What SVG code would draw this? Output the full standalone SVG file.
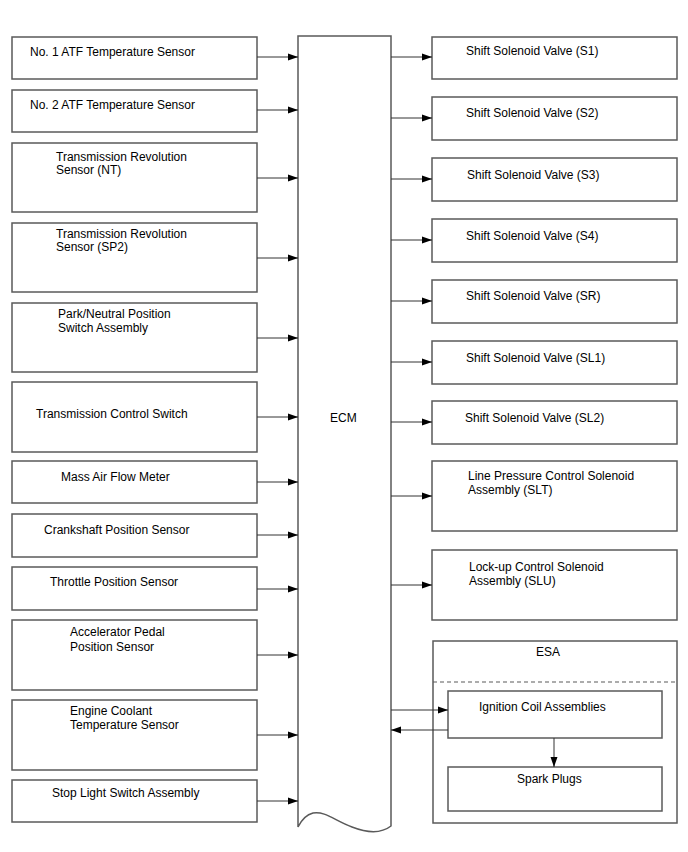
<svg xmlns="http://www.w3.org/2000/svg" width="688" height="852" viewBox="0 0 688 852">
<style>
.box{fill:#fff;stroke:#5a5a5a;stroke-width:1.5}
.t{font-family:"Liberation Sans",Arial,sans-serif;font-size:12px;fill:#000}
.c{stroke:#333;stroke-width:1;fill:none}
</style>
<defs>
<marker id="ah" markerWidth="10" markerHeight="8" refX="10" refY="4" orient="auto" markerUnits="userSpaceOnUse">
<path d="M0,0.5 L10,4 L0,7.5 Z" fill="#000"/>
</marker>
</defs>
<rect width="688" height="852" fill="#fff"/>
<g id="ecm">
<path class="box" d="M298,36 H391 V826 C382,833 370,834 352,827 C334,820 325,811 313,813 C305,815 301,821 298,827 Z"/>
<text class="t" x="330" y="422">ECM</text>
</g>
<g id="n1"><rect class="box" x="12" y="37" width="245" height="42"/><text class="t" x="30" y="56">No. 1 ATF Temperature Sensor</text></g>
<g id="n2"><rect class="box" x="12" y="90" width="245" height="42"/><text class="t" x="30" y="109">No. 2 ATF Temperature Sensor</text></g>
<g id="n3"><rect class="box" x="12" y="143" width="245" height="69"/><text class="t" x="56" y="161">Transmission Revolution</text><text class="t" x="56" y="174">Sensor (NT)</text></g>
<g id="n4"><rect class="box" x="12" y="223" width="245" height="69"/><text class="t" x="56" y="238">Transmission Revolution</text><text class="t" x="56" y="251">Sensor (SP2)</text></g>
<g id="n5"><rect class="box" x="12" y="303" width="245" height="69"/><text class="t" x="58" y="318">Park/Neutral Position</text><text class="t" x="58" y="332">Switch Assembly</text></g>
<g id="n6"><rect class="box" x="12" y="382" width="245" height="70"/><text class="t" x="36" y="418">Transmission Control Switch</text></g>
<g id="n7"><rect class="box" x="12" y="461" width="245" height="42"/><text class="t" x="61" y="481">Mass Air Flow Meter</text></g>
<g id="n8"><rect class="box" x="12" y="514" width="245" height="43"/><text class="t" x="44" y="534">Crankshaft Position Sensor</text></g>
<g id="n9"><rect class="box" x="12" y="567" width="245" height="43"/><text class="t" x="50" y="586">Throttle Position Sensor</text></g>
<g id="n10"><rect class="box" x="12" y="620" width="245" height="70"/><text class="t" x="70" y="636">Accelerator Pedal</text><text class="t" x="70" y="651">Position Sensor</text></g>
<g id="n11"><rect class="box" x="12" y="700" width="245" height="70"/><text class="t" x="70" y="715">Engine Coolant</text><text class="t" x="70" y="729">Temperature Sensor</text></g>
<g id="n12"><rect class="box" x="12" y="780" width="245" height="42"/><text class="t" x="52" y="797">Stop Light Switch Assembly</text></g>
<g id="s1"><rect class="box" x="432" y="37" width="245" height="42"/><text class="t" x="466" y="55">Shift Solenoid Valve (S1)</text></g>
<g id="s2"><rect class="box" x="432" y="97" width="245" height="43"/><text class="t" x="466" y="117">Shift Solenoid Valve (S2)</text></g>
<g id="s3"><rect class="box" x="432" y="158" width="245" height="43"/><text class="t" x="467" y="179">Shift Solenoid Valve (S3)</text></g>
<g id="s4"><rect class="box" x="432" y="219" width="245" height="43"/><text class="t" x="466" y="240">Shift Solenoid Valve (S4)</text></g>
<g id="sr"><rect class="box" x="432" y="280" width="245" height="43"/><text class="t" x="466" y="300">Shift Solenoid Valve (SR)</text></g>
<g id="sl1"><rect class="box" x="432" y="341" width="245" height="43"/><text class="t" x="466" y="362">Shift Solenoid Valve (SL1)</text></g>
<g id="sl2"><rect class="box" x="432" y="401" width="245" height="43"/><text class="t" x="465" y="422">Shift Solenoid Valve (SL2)</text></g>
<g id="slt"><rect class="box" x="432" y="461" width="245" height="70"/><text class="t" x="468" y="480">Line Pressure Control Solenoid</text><text class="t" x="468" y="494">Assembly (SLT)</text></g>
<g id="slu"><rect class="box" x="432" y="550" width="245" height="70"/><text class="t" x="469" y="571">Lock-up Control Solenoid</text><text class="t" x="469" y="585">Assembly (SLU)</text></g>
<g id="esa"><rect class="box" x="433" y="641" width="244" height="182"/><text class="t" x="548" y="656" text-anchor="middle">ESA</text><line x1="433" y1="682" x2="677" y2="682" stroke="#5a5a5a" stroke-width="1.2" stroke-dasharray="4,3"/></g>
<g id="ign"><rect class="box" x="448" y="691" width="214" height="47"/><text class="t" x="479" y="711">Ignition Coil Assemblies</text></g>
<g id="spark"><rect class="box" x="448" y="767" width="214" height="44"/><text class="t" x="517" y="783">Spark Plugs</text></g>
<g id="connectors">
<line class="c" x1="257" y1="57" x2="298" y2="57" marker-end="url(#ah)"/>
<line class="c" x1="257" y1="110" x2="298" y2="110" marker-end="url(#ah)"/>
<line class="c" x1="257" y1="178" x2="298" y2="178" marker-end="url(#ah)"/>
<line class="c" x1="257" y1="258" x2="298" y2="258" marker-end="url(#ah)"/>
<line class="c" x1="257" y1="338" x2="298" y2="338" marker-end="url(#ah)"/>
<line class="c" x1="257" y1="417" x2="298" y2="417" marker-end="url(#ah)"/>
<line class="c" x1="257" y1="482" x2="298" y2="482" marker-end="url(#ah)"/>
<line class="c" x1="257" y1="535" x2="298" y2="535" marker-end="url(#ah)"/>
<line class="c" x1="257" y1="589" x2="298" y2="589" marker-end="url(#ah)"/>
<line class="c" x1="257" y1="655" x2="298" y2="655" marker-end="url(#ah)"/>
<line class="c" x1="257" y1="735" x2="298" y2="735" marker-end="url(#ah)"/>
<line class="c" x1="257" y1="801" x2="298" y2="801" marker-end="url(#ah)"/>
<line class="c" x1="391" y1="57" x2="432" y2="57" marker-end="url(#ah)"/>
<line class="c" x1="391" y1="118" x2="432" y2="118" marker-end="url(#ah)"/>
<line class="c" x1="391" y1="179" x2="432" y2="179" marker-end="url(#ah)"/>
<line class="c" x1="391" y1="240" x2="432" y2="240" marker-end="url(#ah)"/>
<line class="c" x1="391" y1="301" x2="432" y2="301" marker-end="url(#ah)"/>
<line class="c" x1="391" y1="362" x2="432" y2="362" marker-end="url(#ah)"/>
<line class="c" x1="391" y1="422" x2="432" y2="422" marker-end="url(#ah)"/>
<line class="c" x1="391" y1="496" x2="432" y2="496" marker-end="url(#ah)"/>
<line class="c" x1="391" y1="585" x2="432" y2="585" marker-end="url(#ah)"/>
<line class="c" x1="391" y1="710" x2="448" y2="710" marker-end="url(#ah)"/>
<line class="c" x1="448" y1="730" x2="391" y2="730" marker-end="url(#ah)"/>
<line class="c" x1="554" y1="738" x2="554" y2="767" marker-end="url(#ah)"/>
</g>
</svg>
